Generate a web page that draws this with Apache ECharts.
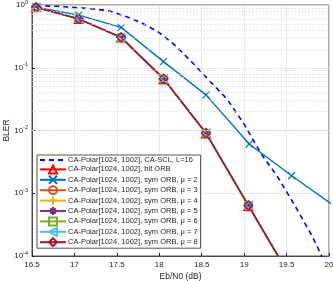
<!DOCTYPE html>
<html><head><meta charset="utf-8">
<script src="https://cdn.jsdelivr.net/npm/echarts@6/dist/echarts.min.js"></script>
<style>html,body{margin:0;padding:0;background:#fff}#c{width:333px;height:281px}</style>
</head><body><div id="c"></div>
<script>
// ---- data ----
const sclX = [16.55, 16.8, 17.0, 17.2, 17.4, 17.6, 17.8, 18.0, 18.2, 18.4, 18.6, 18.8, 19.0, 19.2, 19.4, 19.6, 19.8, 19.95];
const sclY = [0.966, 0.955, 0.912, 0.871, 0.813, 0.661, 0.513, 0.363, 0.219, 0.117, 0.0603, 0.0316, 0.0126, 0.00427, 0.00178, 0.00063, 0.000209, 0.0000794];
const orbX = [16.55, 17.05, 17.55, 18.05, 18.55, 19.05, 19.55];
const bitOrbY = [0.92, 0.60, 0.305, 0.066, 0.009, 0.00063, 0.000045];
const symOrbY = [0.92, 0.60, 0.305, 0.067, 0.0091, 0.00064, 0.000045];
const mu2X = [16.55, 17.05, 17.55, 18.05, 18.55, 19.06, 19.56, 20.06];
const mu2Y = [0.92, 0.69, 0.44, 0.125, 0.037, 0.0061, 0.0019, 0.00063];
const xTicks = [16.5, 17, 17.5, 18, 18.5, 19, 19.5, 20];
const names = [
  'CA-Polar[1024, 1002], CA-SCL, L=16',
  'CA-Polar[1024, 1002], bit ORB',
  'CA-Polar[1024, 1002], sym ORB, \u03bc = 2',
  'CA-Polar[1024, 1002], sym ORB, \u03bc = 3',
  'CA-Polar[1024, 1002], sym ORB, \u03bc = 4',
  'CA-Polar[1024, 1002], sym ORB, \u03bc = 5',
  'CA-Polar[1024, 1002], sym ORB, \u03bc = 6',
  'CA-Polar[1024, 1002], sym ORB, \u03bc = 7',
  'CA-Polar[1024, 1002], sym ORB, \u03bc = 8'
];
// ---- build ----
const zip = (xs, ys) => xs.map((x, i) => [x, ys[i]]);
const minorVals = [];
for (let e = -4; e < 0; e++) for (let k = 2; k <= 9; k++) minorVals.push({yAxis: k * Math.pow(10, e)});

const X_SYM = 'path://M0,0L10,10M10,0L0,10';
const PLUS_SYM = 'path://M5,0L5,10M0,5L10,5';
const STAR_SYM = 'path://M5,0L5,10M0,5L10,5M1.5,1.5L8.5,8.5M8.5,1.5L1.5,8.5';
const LTRI_SYM = 'path://M0,5L10,0L10,10Z';

function mk(name, xs, ys, color, symbol, opts) {
  opts = opts || {};
  return {
    name, type: 'line', data: zip(xs, ys),
    symbol, symbolSize: opts.size || 8,
    showSymbol: true,
    lineStyle: {color, width: opts.width || 1.4, type: opts.type || 'solid'},
    itemStyle: {color: 'rgba(0,0,0,0)', borderColor: color, borderWidth: 1.2},
    emphasis: {disabled: true},
    animation: false, clip: true
  };
}

const series = [
  {
    name: 'minor', type: 'line', data: [], silent: true, animation: false,
    markLine: {silent: true, symbol: 'none', label: {show: false}, animation: false,
      lineStyle: {type: [1.5, 2], color: '#d9d9d9', width: 0.8}, data: minorVals}
  },
  mk(names[0], sclX, sclY, '#0000ff', 'none', {type: [5, 4], width: 1.6}),
  mk(names[1], orbX, bitOrbY, '#ff0000', 'triangle', {size: 9}),
  mk(names[2], mu2X, mu2Y, '#0072bd', X_SYM, {size: 7}),
  mk(names[3], orbX, symOrbY, '#d95319', 'circle', {size: 8}),
  mk(names[4], orbX, symOrbY, '#edb120', PLUS_SYM, {size: 8}),
  mk(names[5], orbX, symOrbY, '#7e2f8e', STAR_SYM, {size: 8}),
  mk(names[6], orbX, symOrbY, '#77ac30', 'rect', {size: 7}),
  mk(names[7], orbX, symOrbY, '#4dbeee', LTRI_SYM, {size: 8}),
  mk(names[8], orbX, symOrbY, '#a2142f', 'diamond', {size: 9, width: 1.6})
];

const legendData = names.map((n, i) => i === 0
  ? {name: n, itemStyle: {color: 'rgba(0,0,0,0)', borderColor: 'rgba(0,0,0,0)', borderWidth: 0}}
  : {name: n});

const chart = echarts.init(document.getElementById('c'), null, {renderer: 'canvas'});
const txt = '#262626';
chart.setOption({
  animation: false,
  textStyle: {fontFamily: 'Liberation Sans, Arial, sans-serif'},
  grid: {left: 32, top: 5, right: 4, bottom: 25, containLabel: false, outerBoundsMode: 'none',
    show: true, borderColor: '#262626', borderWidth: 0.8, backgroundColor: 'transparent'},
  xAxis: {
    type: 'value', min: 16.5, max: 20, interval: 0.5,
    name: 'Eb/N0 (dB)', nameLocation: 'middle', nameGap: 16, nameMoveOverlap: false,
    nameTextStyle: {color: txt, fontSize: 8.5},
    axisLine: {lineStyle: {color: '#262626', width: 0.8}},
    axisTick: {inside: true, length: 3, lineStyle: {color: '#262626'}},
    axisLabel: {color: txt, fontSize: 8, margin: 5, formatter: v => String(+v.toFixed(1))},
    splitLine: {show: true, lineStyle: {color: '#e3e3e3', width: 0.8}}
  },
  yAxis: {
    type: 'log', logBase: 10, min: 1e-4, max: 1, interval: 1,
    name: 'BLER', nameLocation: 'middle', nameGap: 21, nameRotate: 90, nameMoveOverlap: false,
    nameTextStyle: {color: txt, fontSize: 8.5},
    axisLine: {lineStyle: {color: '#262626', width: 0.8}},
    axisTick: {inside: true, length: 3, lineStyle: {color: '#262626'}},
    axisLabel: {
      color: txt, fontSize: 8, margin: 4,
      formatter: v => '10{sup|' + Math.round(Math.log10(v)) + '}',
      rich: {sup: {fontSize: 5.5, color: txt, padding: [0, 0, 6, 0]}}
    },
    splitLine: {show: true, lineStyle: {color: '#e3e3e3', width: 0.8}}
  },
  legend: {
    data: legendData, orient: 'vertical', left: 37, top: 155,
    backgroundColor: '#ffffff', borderColor: '#262626', borderWidth: 0.8,
    padding: [1, 3, 1, 2], itemGap: 0.4, itemWidth: 26, itemHeight: 10,
    textStyle: {color: txt, fontSize: 7.5, padding: [0, 0, 0, -3]},
    selectedMode: false
  },
  series
});
</script></body></html>
